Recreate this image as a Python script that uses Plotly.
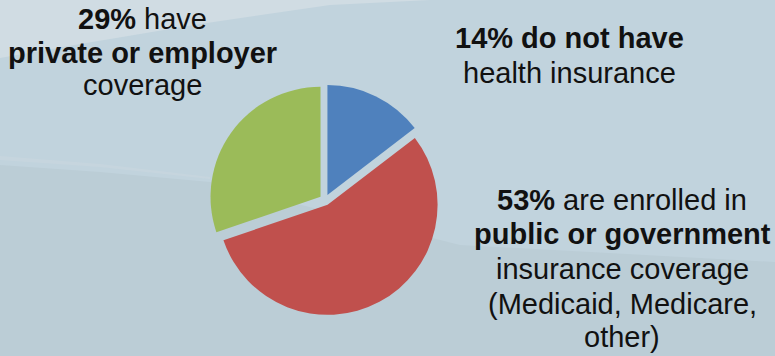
import plotly.graph_objects as go

W, H = 775, 356

# Coverage shares (percent) and slice colours
categories = ["No health insurance", "Public or government coverage", "Private or employer coverage"]
shares = [14, 53, 29]
slice_colors = ["#4F81BD", "#C0504D", "#9BBB59"]

# Callout text, one entry per line: (html text, x px, y px of line centre)
left_lines = [
    ("<b>29%</b> have", 142, 19),
    ("<b>private or employer</b>", 142, 53),
    ("coverage", 142, 85),
]
top_right_lines = [
    ("<b>14% do not have</b>", 569, 38),
    ("health insurance", 569, 73),
]
bottom_right_lines = [
    ("<b>53%</b> are enrolled in", 622, 200),
    ("<b>public or government</b>", 622, 234),
    ("insurance coverage", 622, 269),
    ("(Medicaid, Medicare,", 622, 304),
    ("other)", 622, 337),
]

fig = go.Figure(
    go.Pie(
        labels=categories,
        values=shares,
        marker=dict(colors=slice_colors, line=dict(width=0)),
        pull=[0.05, 0.05, 0.05],
        sort=False,
        direction="clockwise",
        rotation=0,
        textinfo="none",
        hoverinfo="label+percent",
        showlegend=False,
        domain=dict(x=[209.5 / W, 440.5 / W], y=[1 - 315.5 / H, 1 - 84.5 / H]),
    )
)


def px_path(points):
    pts = [(x / W, 1 - y / H) for x, y in points]
    return "M " + " L ".join(f"{x:.4f},{y:.4f}" for x, y in pts) + " Z"


shapes = [
    # darker lower band of the backdrop
    dict(type="path", xref="paper", yref="paper", layer="below",
         path=px_path([(0, 165), (100, 172), (210, 182), (460, 245), (775, 262),
                       (775, 356), (0, 356)]),
         fillcolor="#BBCDD6", line=dict(width=0)),
    # pale sweep in the upper-left corner
    dict(type="path", xref="paper", yref="paper", layer="below",
         path=px_path([(0, 0), (430, 0), (330, 5), (200, 24), (80, 44), (0, 58)]),
         fillcolor="#D0DCE3", line=dict(width=0)),
    # faint highlight streak
    dict(type="path", xref="paper", yref="paper", layer="below",
         path=px_path([(0, 156), (100, 164), (210, 177), (210, 179), (100, 167), (0, 160)]),
         fillcolor="#C6D5DE", line=dict(width=0)),
]

annotations = []
for text, x, y in left_lines + top_right_lines + bottom_right_lines:
    annotations.append(dict(
        text=text, x=x / W, y=1 - y / H, xref="paper", yref="paper",
        xanchor="center", yanchor="middle", showarrow=False,
        font=dict(family="Arial", size=29, color="#111111"),
    ))

fig.update_layout(
    width=W, height=H,
    margin=dict(l=0, r=0, t=0, b=0),
    paper_bgcolor="#C1D3DD",
    plot_bgcolor="#C1D3DD",
    shapes=shapes,
    annotations=annotations,
)

fig.write_html("out.html")
